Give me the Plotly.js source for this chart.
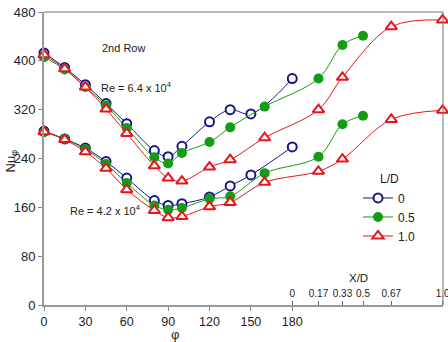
<!DOCTYPE html>
<html>
<head>
<meta charset="utf-8">
<script src="https://cdn.plot.ly/plotly-3.0.1.min.js"></script>
<style>html,body{margin:0;padding:0;background:#fff}#chart{width:448px;height:342px}</style>
</head>
<body>
<div id="chart"></div>
<script>
// ---- data ----
const phiLD0 = [0, 15, 30, 45, 60, 80, 90, 100, 120, 135, 150, 180];
const phiExt = [0, 15, 30, 45, 60, 80, 90, 100, 120, 135, 160];
const xdLD05 = [0.17, 0.33, 0.5];
const xdLD10 = [0.17, 0.33, 0.67, 1.0];

const nuHiLD0  = [413, 389, 361, 330, 297, 253, 243, 260, 300, 320, 313, 371];
const nuHiLD05 = [406, 386, 357, 327, 290, 242, 232, 249, 267, 291, 325, 371, 426, 441];
const nuHiLD10 = [410, 387, 357, 321, 281, 228, 208, 203, 226, 238, 274, 320, 373, 456, 467];

const nuLoLD0  = [285, 272, 257, 235, 208, 171, 163, 166, 177, 195, 213, 259];
const nuLoLD05 = [283, 272, 255, 231, 200, 163, 156, 159, 174, 178, 216, 243, 296, 310];
const nuLoLD10 = [284, 271, 251, 224, 189, 155, 143, 145, 161, 168, 201, 219, 239, 304, 319];

const phiTicks = [0, 30, 60, 90, 120, 150, 180];
const xdTicks = [0, 0.17, 0.33, 0.5, 0.67, 1.0];
const xdTickText = ['0', '0.17', '0.33', '0.5', '0.67', '1.0'];
const legendNames = ['0', '0.5', '1.0'];

// ---- axis scale for the X/D extension (positions in phi-axis units) ----
const xdTickPos = [180, 199, 216.4, 231.3, 251.8, 289.0];
function xdToAxis(v) {
  for (let i = 0; i < xdTicks.length - 1; i++) {
    if (v >= xdTicks[i] && v <= xdTicks[i + 1]) {
      const t = (v - xdTicks[i]) / (xdTicks[i + 1] - xdTicks[i]);
      return xdTickPos[i] + t * (xdTickPos[i + 1] - xdTickPos[i]);
    }
  }
  return xdTickPos[xdTickPos.length - 1];
}
const xLD0 = phiLD0.slice();
const xLD05 = phiExt.concat(xdLD05.map(xdToAxis));
const xLD10 = phiExt.concat(xdLD10.map(xdToAxis));

const FONT = 'Liberation Sans, Arial, sans-serif';
const BLUE = '#16168a', GREEN = '#149c14', RED = '#e8141c';

function styleFor(k) {
  if (k === 0) return {line: {color: BLUE, width: 1, shape: 'spline'},
    marker: {symbol: 'circle', size: 9, color: '#ffffff', line: {color: BLUE, width: 2}}};
  if (k === 1) return {line: {color: GREEN, width: 1, shape: 'spline'},
    marker: {symbol: 'circle', size: 10, color: GREEN, line: {width: 0}}};
  return {line: {color: RED, width: 1, shape: 'spline'},
    marker: {symbol: 'triangle-up', size: 10, color: '#ffffff', line: {color: RED, width: 2}}};
}

const groups = [
  [xLD0, nuHiLD0, nuLoLD0],
  [xLD05, nuHiLD05, nuLoLD05],
  [xLD10, nuHiLD10, nuLoLD10]
];
const traces = [];
groups.forEach((g, k) => {
  const s = styleFor(k);
  traces.push(Object.assign({type: 'scatter', mode: 'lines+markers', x: g[0], y: g[1],
    name: legendNames[k], legendgroup: 'g' + k, showlegend: true, cliponaxis: false}, s));
  traces.push(Object.assign({type: 'scatter', mode: 'lines+markers', x: g[0], y: g[2],
    name: legendNames[k], legendgroup: 'g' + k, showlegend: false, cliponaxis: false}, s));
});
// invisible helper so the X/D axis is drawn
traces.push({type: 'scatter', mode: 'markers', x: [xdTickPos[0]], y: [0], xaxis: 'x2', yaxis: 'y',
  marker: {opacity: 0}, showlegend: false, hoverinfo: 'skip'});

const XR = [0, 289.3];
const layout = {
  width: 448, height: 342,
  margin: {l: 44, r: 5, t: 12, b: 37, pad: 0},
  paper_bgcolor: '#ffffff', plot_bgcolor: '#ffffff',
  font: {family: FONT, size: 12, color: '#222'},
  showlegend: true,
  legend: {x: 0.787, xanchor: 'left', y: 0.468, yanchor: 'top',
    bgcolor: 'rgba(0,0,0,0)', font: {family: FONT, size: 12, color: '#222'},
    title: {text: 'L/D', side: 'top center', font: {family: FONT, size: 12, color: '#222'}},
    tracegroupgap: 0, itemwidth: 30},
  xaxis: {range: XR, tickmode: 'array', tickvals: phiTicks, ticks: 'outside', ticklen: 4,
    tickcolor: '#888', tickwidth: 1, showline: true, linecolor: '#999', linewidth: 2,
    showgrid: false, zeroline: false, tickfont: {family: FONT, size: 12.5, color: '#222'}},
  xaxis2: {overlaying: 'x', anchor: 'free', position: 0, side: 'top', range: XR, tickmode: 'array',
    tickvals: xdTickPos, ticktext: xdTickText, ticks: 'outside', ticklen: 4, tickcolor: '#666',
    ticklabeloverflow: 'allow',
    showline: false, showgrid: false, zeroline: false,
    tickfont: {family: FONT, size: 10, color: '#222'}},
  yaxis: {range: [0, 480], dtick: 80, tick0: 0, ticks: 'outside', ticklen: 4, tickcolor: '#888',
    showline: true, linecolor: '#999', linewidth: 2, showgrid: false, zeroline: false,
    tickfont: {family: FONT, size: 13, color: '#222'}},
  shapes: [
    {type: 'line', xref: 'paper', yref: 'paper', x0: 0, x1: 1, y0: 1, y1: 1, line: {color: '#777', width: 1}},
    {type: 'line', xref: 'paper', yref: 'paper', x0: 1, x1: 1, y0: 0, y1: 1, line: {color: '#777', width: 1}}
  ],
  annotations: [
    {text: '2nd Row', x: 57.4, y: 421, xref: 'x', yref: 'y', showarrow: false,
      font: {family: FONT, size: 11, color: '#222'}},
    {text: 'Re = 6.4 x 10<sup>4</sup>', x: 40, y: 357, xref: 'x', yref: 'y', xanchor: 'left',
      showarrow: false, font: {family: FONT, size: 11, color: '#222'}},
    {text: 'Re = 4.2 x 10<sup>4</sup>', x: 17.4, y: 156, xref: 'x', yref: 'y', xanchor: 'left',
      showarrow: false, font: {family: FONT, size: 11, color: '#222'}},
    {text: 'X/D', x: 228.2, y: 44, xref: 'x', yref: 'y', showarrow: false,
      font: {family: FONT, size: 11.5, color: '#222'}},
    {text: 'φ', x: 94.7, y: -0.099, xref: 'x', yref: 'paper', xanchor: 'center', yanchor: 'middle',
      showarrow: false, font: {family: FONT, size: 13, color: '#222'}},
    {text: 'Nu<sub>φ</sub>', x: -0.0827, y: 0.49, xref: 'paper', yref: 'paper', textangle: -90,
      xanchor: 'center', yanchor: 'middle',
      showarrow: false, font: {family: FONT, size: 13, color: '#222'}}
  ]
};

Plotly.newPlot('chart', traces, layout, {staticPlot: true, displayModeBar: false});
</script>
</body>
</html>
